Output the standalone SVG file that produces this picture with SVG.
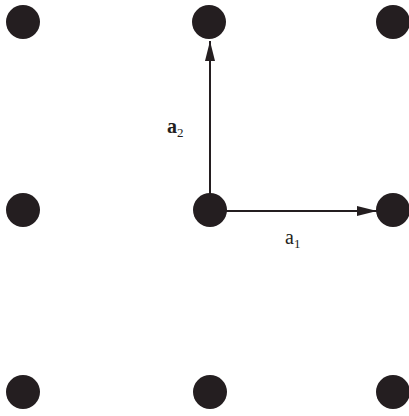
<svg xmlns="http://www.w3.org/2000/svg" width="409" height="416" viewBox="0 0 409 416">
<style>
.dot{fill:#241e20}
.edge{stroke:#241e20;stroke-width:2;fill:none}
.lbl{font-family:"Liberation Serif","Times New Roman",serif;fill:#241e20}
</style>
<defs>
<marker id="ah" viewBox="0 0 20 10" refX="20" refY="5" markerWidth="20" markerHeight="10" markerUnits="userSpaceOnUse" orient="auto">
<path d="M0,0 L20,5 L0,10 Z" fill="#241e20"/>
</marker>
</defs>
<rect width="409" height="416" fill="#ffffff"/>
<g id="connectors">
<line class="edge" x1="210" y1="200" x2="210" y2="41" marker-end="url(#ah)"/>
<line class="edge" x1="215" y1="211" x2="377" y2="211" marker-end="url(#ah)"/>
</g>
<g id="n00"><circle class="dot" cx="23" cy="22" r="17"/></g>
<g id="n01"><circle class="dot" cx="209" cy="22" r="17"/></g>
<g id="n02"><circle class="dot" cx="393" cy="22" r="17"/></g>
<g id="n10"><circle class="dot" cx="23" cy="210" r="17"/></g>
<g id="n11"><circle class="dot" cx="210" cy="210" r="17"/></g>
<g id="n12"><circle class="dot" cx="393" cy="210" r="17"/></g>
<g id="n20"><circle class="dot" cx="23" cy="392" r="17"/></g>
<g id="n21"><circle class="dot" cx="210" cy="392" r="17"/></g>
<g id="n22"><circle class="dot" cx="393" cy="392" r="17"/></g>
<g id="label-a2"><text class="lbl" x="167" y="133" font-size="20" font-weight="bold">a<tspan font-size="13" font-weight="normal" dy="4">2</tspan></text></g>
<g id="label-a1"><text class="lbl" x="285" y="244" font-size="20">a<tspan font-size="13" dy="4">1</tspan></text></g>
</svg>
